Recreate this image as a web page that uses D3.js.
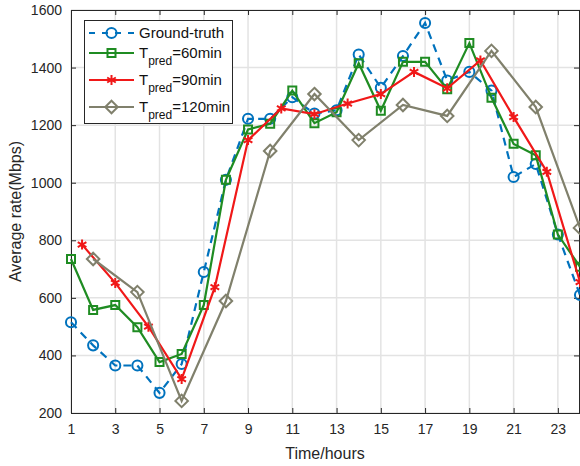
<html>
<head>
<script src="https://d3js.org/d3.v7.min.js"></script>
<style>
  body { margin: 0; background: #fff; }
  text { font-family: "Liberation Sans", Arial, sans-serif; }
</style>
</head>
<body>
<script>
// hours and values
var hours = [1,2,3,4,5,6,7,8,9,10,11,12,13,14,15,16,17,18,19,20,21,22,23,24]
var groundTruth = [515,435,365,365,270,370,690,1010,1222,1222,1297,1240,1252,1445,1330,1440,1555,1355,1385,1320,1020,1065,820,610]
var pred60 = [735,558,575,498,377,405,575,1010,1185,1205,1320,1207,1245,1415,1250,1420,1420,1325,1485,1295,1135,1095,820,708]

var hours90 = [1.5,3,4.5,6,7.5,9,10.5,12,13.5,15,16.5,18,19.5,21,22.5,24]
var pred90 = [785,652,500,318,637,1148,1258,1238,1275,1308,1385,1328,1425,1228,1038,655]

var hours120 = [2,4,6,8,10,12,14,16,18,20,22,24]
var pred120 = [735,620,242,589,1110,1308,1148,1270,1232,1458,1263,843]

var xTicks = [1,3,5,7,9,11,13,15,17,19,21,23]
var yTicks = [200,400,600,800,1000,1200,1400,1600]

var width = 580, height = 466
var m = {top: 10, right: 0, bottom: 53, left: 71}

var svg = d3.select("body").append("svg")
  .attr("width", width).attr("height", height)

var x = d3.scaleLinear().domain([1, 24]).range([m.left, width - m.right])
var y = d3.scaleLinear().domain([200, 1600]).range([height - m.bottom, m.top])

// grid
svg.append("g").selectAll("line").data(xTicks).enter().append("line")
  .attr("x1", d => x(d)).attr("x2", d => x(d))
  .attr("y1", y(200)).attr("y2", y(1600))
  .attr("stroke", "#e3e3e3").attr("stroke-width", 1.5)
svg.append("g").selectAll("line").data(yTicks).enter().append("line")
  .attr("x1", x(1)).attr("x2", x(24))
  .attr("y1", d => y(d)).attr("y2", d => y(d))
  .attr("stroke", "#e3e3e3").attr("stroke-width", 1.5)

// axes (inward ticks, box)
var axisColor = "#262626"
var gx = svg.append("g").attr("transform", "translate(0," + y(200) + ")")
  .call(d3.axisBottom(x).tickValues(xTicks).tickSizeInner(-5).tickSizeOuter(0).tickPadding(11))
var gxTop = svg.append("g").attr("transform", "translate(0," + y(1600) + ")")
  .call(d3.axisTop(x).tickValues(xTicks).tickSizeInner(-5).tickSizeOuter(0).tickFormat(""))
var gy = svg.append("g").attr("transform", "translate(" + x(1) + ",0)")
  .call(d3.axisLeft(y).tickValues(yTicks).tickFormat(d3.format("d")).tickSizeInner(-5).tickSizeOuter(0).tickPadding(9))
var gyR = svg.append("g").attr("transform", "translate(" + (x(24) - 1) + ",0)")
  .call(d3.axisRight(y).tickValues(yTicks).tickSizeInner(-5).tickSizeOuter(0).tickFormat(""))

;[gx, gxTop, gy, gyR].forEach(function(g){
  g.selectAll("path, line").attr("stroke", axisColor)
  g.selectAll("text").attr("fill", axisColor).style("font-size", "14px")
    .style("font-family", "Liberation Sans, Arial, sans-serif")
})

svg.append("text").attr("x", 325).attr("y", 459)
  .attr("text-anchor", "middle").attr("fill", axisColor).style("font-size", "16px")
  .text("Time/hours")
svg.append("text").attr("transform", "translate(21," + ((y(200) + y(1600)) / 2) + ") rotate(-90)")
  .attr("text-anchor", "middle").attr("fill", axisColor).style("font-size", "16px")
  .text("Average rate(Mbps)")

// series
var series = [
  {xs: hours, ys: groundTruth, color: "#0072BD", dash: "8,6", symbol: d3.symbolCircle, size: 80},
  {xs: hours, ys: pred60, color: "#1f8c22", dash: null, symbol: d3.symbolSquare, size: 64},
  {xs: hours90, ys: pred90, color: "#f01818", dash: null, symbol: d3.symbolAsterisk, size: 70},
  {xs: hours120, ys: pred120, color: "#80806c", dash: null, symbol: d3.symbolDiamond2, size: 100}
]

var line = d3.line().x(d => x(d[0])).y(d => y(d[1]))

series.forEach(function(s){
  var pts = s.xs.map((h, i) => [h, s.ys[i]])
  svg.append("path").datum(pts)
    .attr("d", line).attr("fill", "none")
    .attr("stroke", s.color).attr("stroke-width", 2.2)
    .attr("stroke-dasharray", s.dash)
  svg.append("g").selectAll("path").data(pts).enter().append("path")
    .attr("d", d3.symbol().type(s.symbol).size(s.size))
    .attr("transform", d => "translate(" + x(d[0]) + "," + y(d[1]) + ")")
    .attr("fill", "none").attr("stroke", s.color).attr("stroke-width", 2)
})

// legend
var lg = svg.append("g")
lg.append("rect").attr("x", 84.5).attr("y", 20.5).attr("width", 148).attr("height", 103)
  .attr("fill", "#fff").attr("stroke", axisColor).attr("stroke-width", 1)

var legendNames = [["Ground-truth", null], ["T", "60min"], ["T", "90min"], ["T", "120min"]]
var rowY = [33, 53, 80, 107]
legendNames.forEach(function(n, i){
  var s = series[i], cy = rowY[i]
  lg.append("line").attr("x1", 89).attr("x2", 134).attr("y1", cy).attr("y2", cy)
    .attr("stroke", s.color).attr("stroke-width", 2.2).attr("stroke-dasharray", s.dash ? "6,7" : null)
  lg.append("path").attr("d", d3.symbol().type(s.symbol).size(s.size))
    .attr("transform", "translate(111.5," + cy + ")")
    .attr("fill", "none").attr("stroke", s.color).attr("stroke-width", 2)
  var t = lg.append("text").attr("x", 139).attr("y", cy + 5)
    .attr("fill", "#111").style("font-size", "15px")
  if (n[1] == null) {
    t.text(n[0])
  } else {
    t.append("tspan").text(n[0])
    t.append("tspan").attr("dy", 7).style("font-size", "12px").text("pred")
    t.append("tspan").attr("dy", -7).text("=" + n[1])
  }
})
</script>
</body>
</html>
